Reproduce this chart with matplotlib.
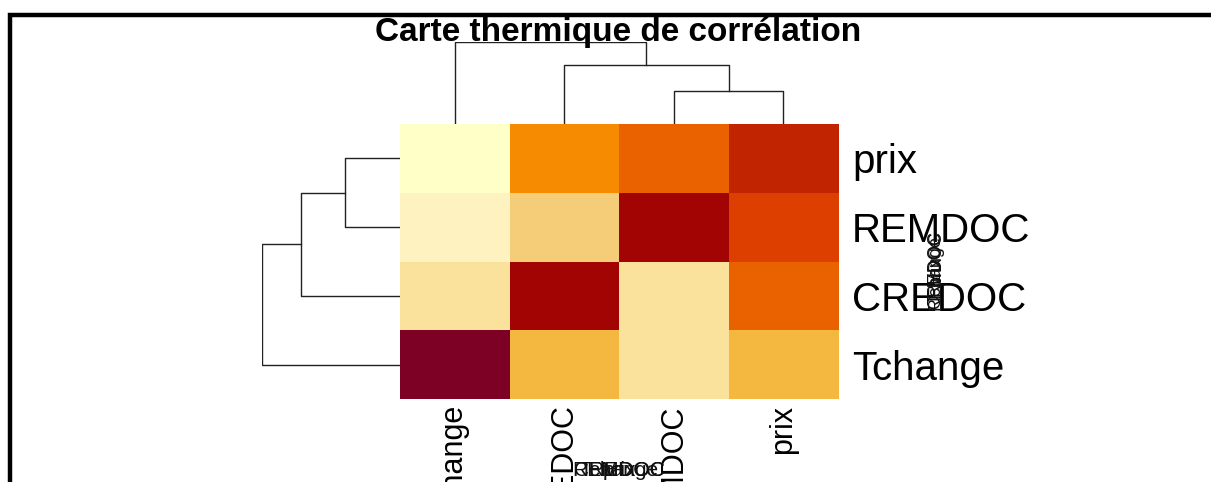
import numpy as np
import matplotlib
matplotlib.use("Agg")
import matplotlib.pyplot as plt
from matplotlib.colors import ListedColormap, BoundaryNorm
from matplotlib.patches import Rectangle

plt.rcParams['font.family'] = ['Liberation Sans', 'DejaVu Sans']

# variables (ordre des feuilles du dendrogramme)
colonnes = ["Tchange", "CREDOC", "REMDOC", "prix"]
lignes = ["Tchange", "CREDOC", "REMDOC", "prix"]   # de bas en haut

# niveaux de couleur (1 = clair, 12 = foncé), lignes de bas en haut
niv_tchange = [12, 5, 3, 5]
niv_credoc = [3, 11, 3, 8]
niv_remdoc = [2, 4, 11, 9]
niv_prix = [1, 7, 8, 10]

# fusions du dendrogramme (gauche, droite, hauteur relative)
fusions = [("REMDOC", "prix", 0.40), ("CREDOC", 0, 0.72), ("Tchange", 1, 1.0)]

palette = ["#FFFFC8", "#FDF2C0", "#FAE19C", "#F5CD78", "#F4B840", "#F6A11E",
           "#F68A00", "#EA6200", "#DD3F00", "#C02400", "#A20404", "#7D0025"]

W, H = 1211, 482
fig = plt.figure(figsize=(W / 100, H / 100), dpi=100)


def box(x0, y0, x1, y1):
    # pixels (origine en haut) -> fraction de figure
    return [x0 / W, 1 - y1 / H, (x1 - x0) / W, (y1 - y0) / H]


def dendro(ax, feuilles, fusions, vertical):
    pos = {f: i + 0.5 for i, f in enumerate(feuilles)}
    haut = {f: 0.0 for f in feuilles}
    for k, (a, b, h) in enumerate(fusions):
        xa, xb = pos[a], pos[b]
        ha, hb = haut[a], haut[b]
        xs = [xa, xa, xb, xb]
        ys = [ha, h, h, hb]
        if vertical:
            ax.plot(xs, ys, color="#222222", lw=1.0)
        else:
            ax.plot(ys, xs, color="#222222", lw=1.0)
        pos[k] = (xa + xb) / 2
        haut[k] = h


niveaux = np.array([niv_tchange, niv_credoc, niv_remdoc, niv_prix])
cmap = ListedColormap(palette)
norm = BoundaryNorm(np.arange(0.5, 13.5), cmap.N)

ax = fig.add_axes(box(400, 124, 838, 399))
ax.imshow(niveaux, cmap=cmap, norm=norm, origin="lower", extent=(0, 4, 0, 4),
          aspect="auto", interpolation="nearest")
ax.set_xticks(np.arange(4) + 0.5)
ax.set_xticklabels(colonnes, rotation=90, fontsize=22)
ax.set_yticks(np.arange(4) + 0.5)
ax.set_yticklabels(lignes, fontsize=29)
ax.yaxis.tick_right()
ax.tick_params(axis="x", length=0, pad=4)
ax.tick_params(axis="y", length=0, pad=10)
for s in ax.spines.values():
    s.set_visible(False)

axh = fig.add_axes(box(400, 42, 838, 124))
dendro(axh, colonnes, fusions, True)
axh.set_xlim(0, 4)
axh.set_ylim(0, 1.0)
axh.axis("off")

axg = fig.add_axes(box(262, 124, 400, 399))
dendro(axg, lignes, fusions, False)
axg.set_ylim(0, 4)
axg.set_xlim(1.0, 0)
axg.axis("off")

fig.text(618 / W, 1 - 41 / H, "Carte thermique de corrélation",
         ha="center", va="baseline", fontsize=24, fontweight="bold")

# étiquettes d'axes superposées (comme dans l'original)
for nom in colonnes:
    fig.text(619 / W, 1 - 470 / H, nom, ha="center", va="center",
             fontsize=15, color="#111111")
for nom in lignes:
    fig.text(936 / W, 1 - 270 / H, nom, ha="center", va="center",
             fontsize=13, rotation=90, color="#111111")

# cadre
fig.add_artist(Rectangle((10 / W, -0.2), 1.2, 1.2 - 15 / H,
                         transform=fig.transFigure, fill=False,
                         edgecolor="black", lw=3.2))

fig.savefig("out.png", dpi=100)
